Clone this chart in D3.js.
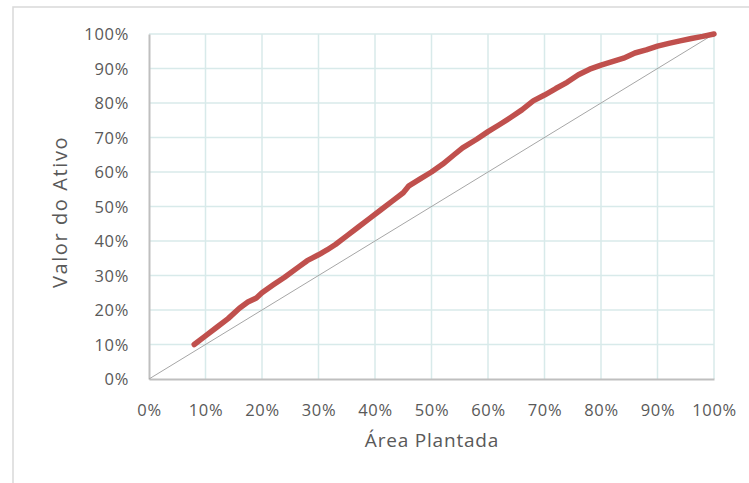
<!DOCTYPE html>
<html>
<head>
<meta charset="utf-8">
<script src="https://cdn.jsdelivr.net/npm/d3@7/dist/d3.min.js"></script>
<style>
  html, body { margin: 0; padding: 0; background: #fff; }
  svg { display: block; }
  text { font-family: "Open Sans", sans-serif; fill: #595959; }
</style>
</head>
<body>
<svg id="chart" width="749" height="483"></svg>
<script>
// Cumulative share of asset value versus cumulative planted area
const areaPlantada = [0.08, 0.10, 0.12, 0.14, 0.16, 0.175, 0.19, 0.20, 0.22, 0.24,
  0.265, 0.28, 0.30, 0.315, 0.33, 0.35, 0.37, 0.39, 0.41, 0.43,
  0.45, 0.46, 0.48, 0.50, 0.52, 0.54, 0.555, 0.58, 0.60, 0.62,
  0.64, 0.66, 0.68, 0.70, 0.72, 0.74, 0.76, 0.78, 0.80, 0.82,
  0.84, 0.86, 0.88, 0.90, 0.92, 0.94, 0.96, 0.98, 1.00];
const valorAtivo = [0.10, 0.125, 0.15, 0.175, 0.205, 0.223, 0.235, 0.25, 0.273, 0.295,
  0.325, 0.343, 0.36, 0.374, 0.39, 0.415, 0.44, 0.465, 0.49, 0.515,
  0.54, 0.56, 0.58, 0.60, 0.623, 0.65, 0.67, 0.695, 0.717, 0.737,
  0.758, 0.78, 0.806, 0.823, 0.842, 0.86, 0.882, 0.898, 0.91, 0.92,
  0.93, 0.945, 0.954, 0.965, 0.973, 0.98, 0.987, 0.993, 1.00];
// Reference line of equal shares
const diagonal = [[0, 0], [1, 1]];
const xTicks = [0, 0.1, 0.2, 0.3, 0.4, 0.5, 0.6, 0.7, 0.8, 0.9, 1.0];
const yTicks = [0, 0.1, 0.2, 0.3, 0.4, 0.5, 0.6, 0.7, 0.8, 0.9, 1.0];
const xTitle = "Área Plantada";
const yTitle = "Valor do Ativo";

const svg = d3.select("#chart");
const plot = { left: 149, right: 714, top: 34, bottom: 379 };

// Outer chart frame
svg.append("rect")
  .attr("x", 13).attr("y", 7)
  .attr("width", 800).attr("height", 600)
  .attr("fill", "#fff")
  .attr("stroke", "#d9d9d9").attr("stroke-width", 1.5);

const x = d3.scaleLinear().domain([0, 1]).range([plot.left, plot.right]);
const y = d3.scaleLinear().domain([0, 1]).range([plot.bottom, plot.top]);
const pct = d3.format(".0%");

// Gridlines
const grid = svg.append("g").attr("stroke", "#d8eaea").attr("stroke-width", 1.5);
grid.selectAll("line.v").data(xTicks.slice(1)).join("line")
  .attr("x1", d => x(d)).attr("x2", d => x(d))
  .attr("y1", plot.top).attr("y2", plot.bottom);
grid.selectAll("line.h").data(yTicks.slice(1)).join("line")
  .attr("x1", plot.left).attr("x2", plot.right)
  .attr("y1", d => y(d)).attr("y2", d => y(d));

// Axes
const xAxis = svg.append("g")
  .attr("transform", `translate(0,${plot.bottom})`)
  .call(d3.axisBottom(x).tickValues(xTicks).tickFormat(pct).tickSize(0).tickPadding(25));
const yAxis = svg.append("g")
  .attr("transform", `translate(${plot.left},0)`)
  .call(d3.axisLeft(y).tickValues(yTicks).tickFormat(pct).tickSize(0).tickPadding(20));
[xAxis, yAxis].forEach(a => {
  a.select(".domain").attr("stroke", "#bfbfbf").attr("stroke-width", 2);
  a.selectAll("text")
    .style("font-family", "'Open Sans', sans-serif")
    .style("font-size", "16.5px")
    .style("letter-spacing", "0.7px")
    .attr("fill", "#595959");
});
yAxis.selectAll("text").attr("dy", "0.36em");

// Equal-share diagonal
svg.append("path")
  .datum(diagonal)
  .attr("fill", "none")
  .attr("stroke", "#a6a6a6")
  .attr("stroke-width", 1)
  .attr("d", d3.line().x(d => x(d[0])).y(d => y(d[1])));

// Cumulative asset value curve
const pts = areaPlantada.map((a, i) => [a, valorAtivo[i]]);
svg.append("path")
  .datum(pts)
  .attr("fill", "none")
  .attr("stroke", "#c0504d")
  .attr("stroke-width", 5.5)
  .attr("stroke-linecap", "round")
  .attr("stroke-linejoin", "round")
  .attr("d", d3.line().x(d => x(d[0])).y(d => y(d[1])));

// Axis titles
svg.append("text")
  .attr("x", (plot.left + plot.right) / 2 + 0.5)
  .attr("y", 447)
  .attr("text-anchor", "middle")
  .style("font-size", "19px")
  .style("letter-spacing", "0.8px")
  .text(xTitle);

svg.append("text")
  .attr("transform", `translate(67,212) rotate(-90)`)
  .attr("text-anchor", "middle")
  .style("font-size", "20px")
  .style("letter-spacing", "1.6px")
  .text(yTitle);
</script>
</body>
</html>
